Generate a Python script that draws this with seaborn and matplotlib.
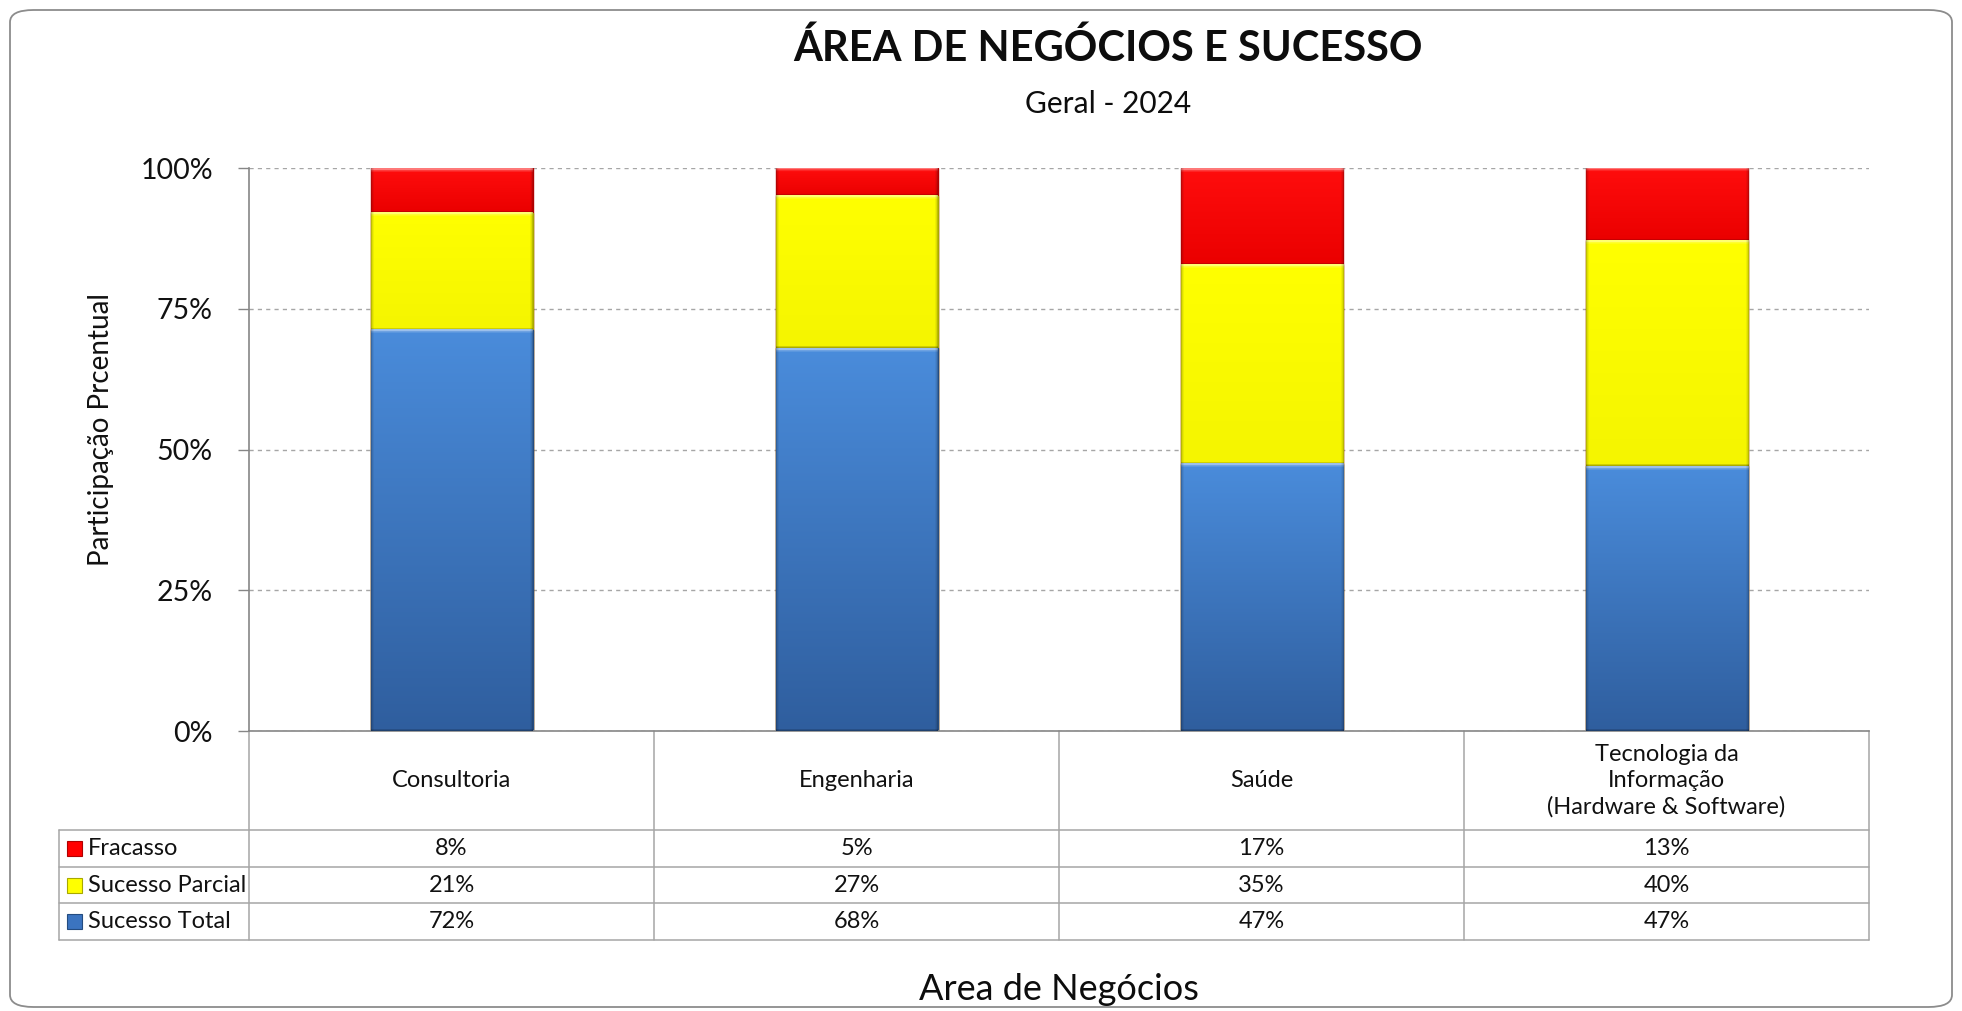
import numpy as np
import pandas as pd
import matplotlib
matplotlib.use("Agg")
import matplotlib.pyplot as plt
import seaborn as sns
from matplotlib.patches import FancyBboxPatch, Rectangle
from matplotlib.colors import to_rgb
import matplotlib.ticker as mticker

# ---------------- data ----------------
categories = ["Consultoria", "Engenharia", "Saúde",
              "Tecnologia da\nInformação\n(Hardware & Software)"]
series_names = ["Fracasso", "Sucesso Parcial", "Sucesso Total"]
fracasso = [8, 5, 17, 13]
sucesso_parcial = [21, 27, 35, 40]
sucesso_total = [72, 68, 47, 47]
ytick_values = [0, 25, 50, 75, 100]

title = "ÁREA DE NEGÓCIOS E SUCESSO"
subtitle = "Geral - 2024"
xlabel = "Area de Negócios"
ylabel = "Participação Prcentual"

# ---------------- style ----------------
sns.set_theme(style="white")
plt.rcParams['font.family'] = ['Lato', 'DejaVu Sans']

RED = "#FF0000"
YELLOW = "#FFFF00"
BLUE_TOP = "#4A8CDB"
BLUE_BOT = "#2F5E9E"
GRID = "#A6A6A6"
AXC = "#868686"
TABLE_C = "#A6A6A6"
TXT = "#111111"
TFS = 17

W, H = 1962, 1011
fig = plt.figure(figsize=(W / 100, H / 100), dpi=100)
fig.patch.set_facecolor("white")

# rounded outer border
fig.add_artist(FancyBboxPatch((10 / W, 4 / H), (W - 20) / W, (H - 14) / H,
                              boxstyle="round,pad=0,rounding_size=0.012",
                              transform=fig.transFigure, fill=False,
                              edgecolor="#8C8C8C", linewidth=1.3))

ax_l, ax_r, ax_t, ax_b = 249, 1869, 168, 731
ax = fig.add_axes([ax_l / W, 1 - ax_b / H, (ax_r - ax_l) / W, (ax_b - ax_t) / H])
ax.set_facecolor("none")

# normalise to 100% stacked
tot = np.array(fracasso) + np.array(sucesso_parcial) + np.array(sucesso_total)
s_total = np.array(sucesso_total) / tot * 100
s_parcial = np.array(sucesso_parcial) / tot * 100
s_frac = np.array(fracasso) / tot * 100

df = pd.DataFrame({
    "cat": categories,
    "top": s_total + s_parcial + s_frac,
    "mid": s_total + s_parcial,
    "low": s_total,
})

sns.barplot(data=df, x="cat", y="top", color=RED, width=0.4, saturation=1,
            ax=ax, edgecolor="#B00000", linewidth=1, zorder=2)
sns.barplot(data=df, x="cat", y="mid", color=YELLOW, width=0.4, saturation=1,
            ax=ax, edgecolor="#A8A800", linewidth=1, zorder=2)
sns.barplot(data=df, x="cat", y="low", color=BLUE_TOP, width=0.4, saturation=1,
            ax=ax, edgecolor="#244C80", linewidth=1, zorder=2)

ax.set_xlim(-0.5, 3.5)
ax.set_ylim(0, 100)

patches = list(ax.patches)
n = len(categories)
red_p, yel_p, blu_p = patches[:n], patches[n:2 * n], patches[2 * n:3 * n]

px_per_unit = (ax_b - ax_t) / 100.0


def mix(c, other, t):
    c = np.array(to_rgb(c)); o = np.array(to_rgb(other))
    return c * (1 - t) + o * t


def segment_image(top_c, bot_c, hpx, wpx, hl=(0.45, 0.2), dark=0.3):
    rows = max(int(round(hpx)), 4)
    cols = max(int(round(wpx)), 4)
    t = np.linspace(0, 1, rows)[:, None]
    base = np.array(to_rgb(top_c))[None, :] * (1 - t) + np.array(to_rgb(bot_c))[None, :] * t
    img = np.repeat(base[:, None, :], cols, axis=1)
    for k, a in enumerate([hl[0], hl[0], hl[1], hl[1] * 0.5]):
        if k < rows:
            img[k] = img[k] * (1 - a) + a
    for k, a in enumerate([dark, dark * 0.5]):
        if k < rows:
            img[rows - 1 - k] = img[rows - 1 - k] * (1 - a)
    for k, a in enumerate([0.25, 0.12, 0.05]):
        if k < cols:
            img[:, k] = img[:, k] * (1 - a)
            img[:, cols - 1 - k] = img[:, cols - 1 - k] * (1 - a)
    return np.clip(img, 0, 1)


wpx = 0.4 * (ax_r - ax_l) / 4
for i in range(n):
    segs = [
        (red_p[i], yel_p[i].get_height(), red_p[i].get_height(), mix(RED, "white", 0.05), mix(RED, "black", 0.08)),
        (yel_p[i], blu_p[i].get_height(), yel_p[i].get_height(), YELLOW, mix(YELLOW, "black", 0.04)),
        (blu_p[i], 0, blu_p[i].get_height(), BLUE_TOP, BLUE_BOT),
    ]
    for p, y0, y1, ct, cb in segs:
        x0 = p.get_x(); x1 = x0 + p.get_width()
        img = segment_image(ct, cb, (y1 - y0) * px_per_unit, wpx)
        ax.imshow(img, extent=(x0, x1, y0, y1), aspect="auto", zorder=3,
                  interpolation="bilinear")
ax.set_xlim(-0.5, 3.5)
ax.set_ylim(0, 100)

# axes styling
ax.set_yticks(ytick_values)
ax.yaxis.set_major_formatter(mticker.FuncFormatter(lambda v, _: f"{v:.0f}%"))
ax.tick_params(axis="y", which="major", length=8, width=1, color=AXC,
               labelsize=20.5, pad=18, labelcolor=TXT, left=True)
ax.set_xticks(range(n))
ax.set_xticklabels([])
ax.tick_params(axis="x", length=0)
ax.yaxis.grid(True, linestyle=(0, (3, 3)), color=GRID, linewidth=1)
ax.set_axisbelow(True)
for s in ["top", "right"]:
    ax.spines[s].set_visible(False)
for s in ["left", "bottom"]:
    ax.spines[s].set_color(AXC)
    ax.spines[s].set_linewidth(1.2)
ax.set_xlabel("")
ax.set_ylabel(ylabel, fontsize=20, color=TXT)
ax.yaxis.set_label_coords((101 - ax_l) / (ax_r - ax_l), (ax_b - 430) / (ax_b - ax_t))
ax.yaxis.label.set_verticalalignment("center")

# ---------------- data table ----------------
axh = ax_b - ax_t
def yax(py):
    return -(py - ax_b) / axh

row_edges = [yax(731), yax(830), yax(867), yax(903), yax(940)]
left_col = (59 - ax_l) / (ax_r - ax_l)
xt = ax.get_xaxis_transform()
kw = dict(color=TABLE_C, linewidth=1.1, clip_on=False, zorder=1)

for yy in row_edges[1:]:
    ax.plot([left_col, 1], [yy, yy], transform=ax.transAxes, **kw)
for b in np.arange(n + 1) - 0.5:
    ax.plot([b, b], [row_edges[0], row_edges[-1]], transform=xt, **kw)
ax.plot([left_col, left_col], [row_edges[1], row_edges[-1]], transform=ax.transAxes, **kw)

for i, c in enumerate(categories):
    ax.text(i, (row_edges[0] + row_edges[1]) / 2, c, transform=xt, ha="center",
            va="center", fontsize=TFS, color=TXT, linespacing=1.3)

rows = [(series_names[0], fracasso, RED, "#B00000"),
        (series_names[1], sucesso_parcial, YELLOW, "#A8A800"),
        (series_names[2], sucesso_total, "#3B74C0", "#244C80")]
for r, (name, vals, col, ec) in enumerate(rows):
    yc = (row_edges[r + 1] + row_edges[r + 2]) / 2
    sq = 15 / axh
    sqw = 15 / (ax_r - ax_l)
    ax.add_patch(Rectangle(((67 - ax_l) / (ax_r - ax_l), yc - sq / 2), sqw, sq,
                           transform=ax.transAxes, facecolor=col, edgecolor=ec,
                           linewidth=0.8, clip_on=False))
    ax.text((88 - ax_l) / (ax_r - ax_l), yc, name, transform=ax.transAxes,
            ha="left", va="center", fontsize=TFS, color=TXT)
    for i, v in enumerate(vals):
        ax.text(i, yc, f"{v}%", transform=xt, ha="center", va="center",
                fontsize=TFS, color=TXT)

# titles
fig.text(1108 / W, 1 - 48 / H, title, ha="center", va="center", fontsize=30,
         fontweight="bold", color="#0d0d0d")
fig.text(1108 / W, 1 - 104 / H, subtitle, ha="center", va="center", fontsize=21.5,
         color="#0d0d0d")
fig.text((ax_l + ax_r) / 2 / W, 1 - 990 / H, xlabel, ha="center", va="center",
         fontsize=26, color="#0d0d0d")

fig.savefig("out.png", dpi=100, facecolor="white")
